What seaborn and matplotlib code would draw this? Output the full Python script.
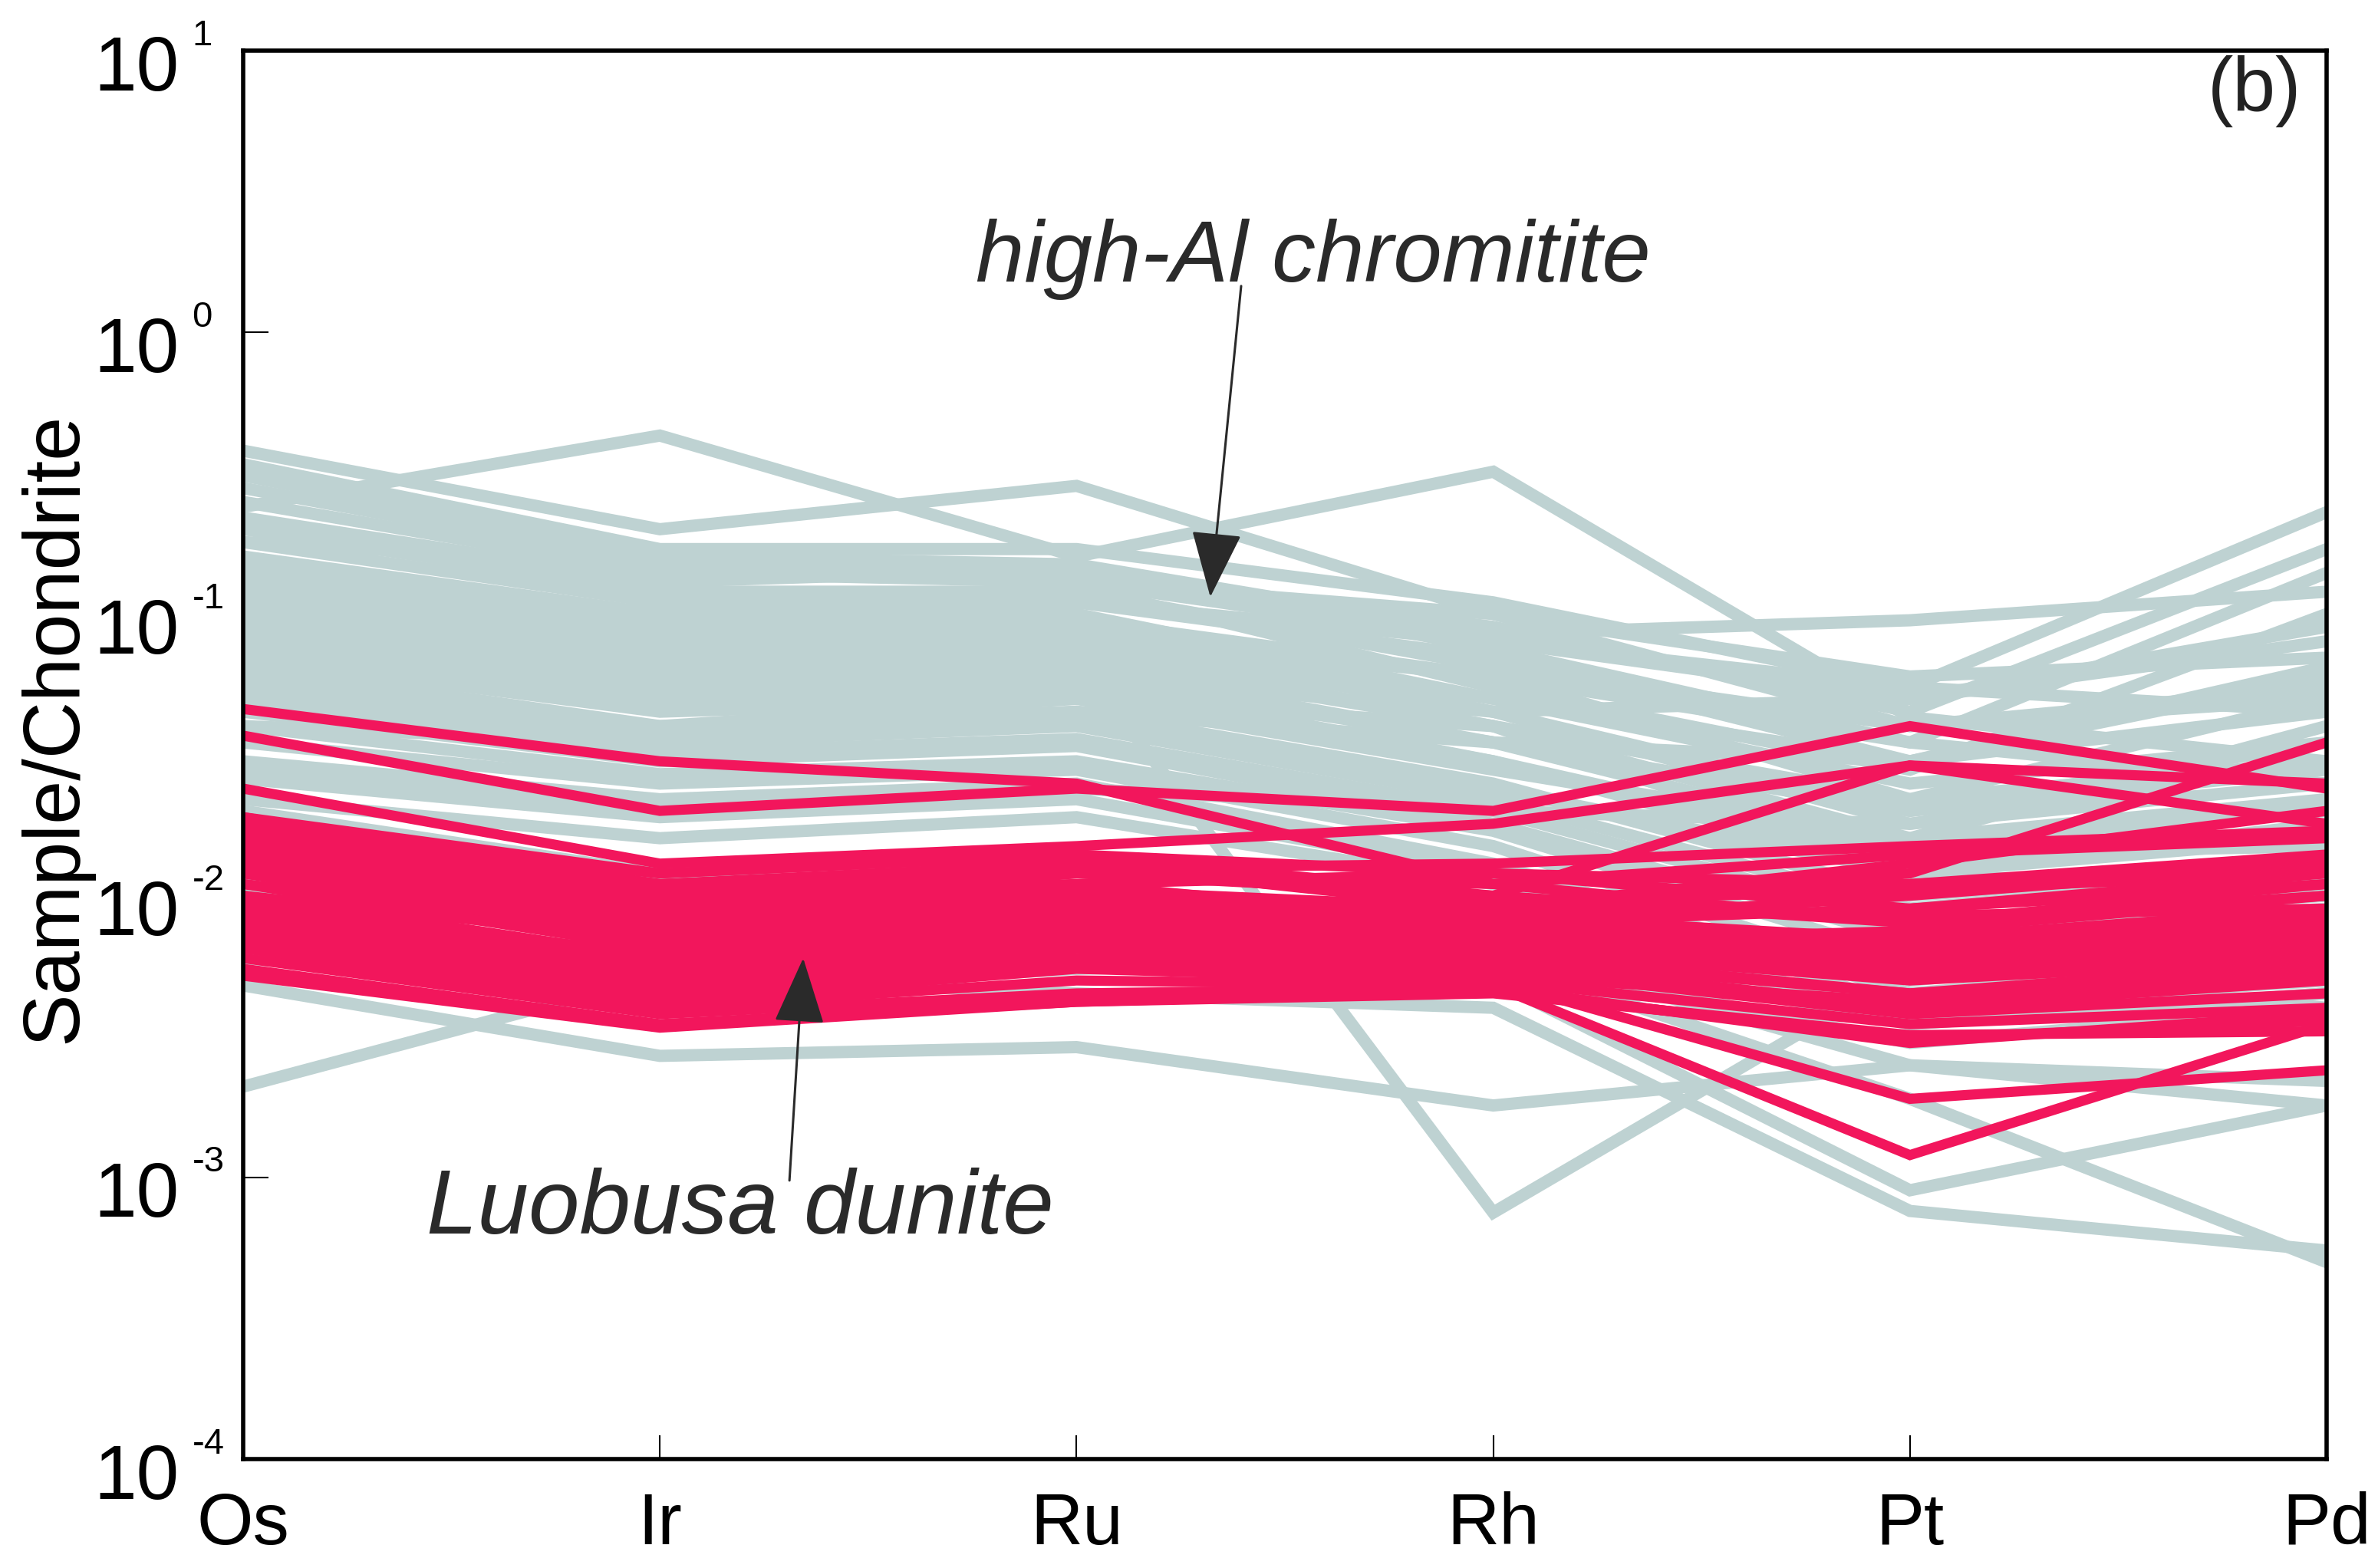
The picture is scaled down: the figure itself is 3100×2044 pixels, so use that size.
import numpy as np
import pandas as pd
import matplotlib
matplotlib.use("Agg")
import matplotlib.pyplot as plt
import matplotlib.transforms as mtransforms
from matplotlib.ticker import NullLocator
import seaborn as sns

# ---------------- data ----------------
elements = ["Os", "Ir", "Ru", "Rh", "Pt", "Pd"]
y_decades = [1e1, 1e0, 1e-1, 1e-2, 1e-3, 1e-4]
y_exponents = ["1", "0", "-1", "-2", "-3", "-4"]

# high-Al chromitite (grey), one value per sample for each element
hal_os = [0.38, 0.24, 0.34, 0.31, 0.28, 0.25, 0.22, 0.20, 0.18, 0.16, 0.15, 0.14, 0.13, 0.12, 0.11, 0.10,
          0.095, 0.09, 0.085, 0.08, 0.075, 0.07, 0.065, 0.06, 0.055, 0.05, 0.045, 0.04, 0.035, 0.03, 0.026,
          0.022, 0.0048, 0.0021, 0.08, 0.012, 0.01, 0.02, 0.006, 0.009, 0.015, 0.18, 0.12, 0.065, 0.04,
          0.028, 0.05, 0.1]
hal_ir = [0.20, 0.43, 0.17, 0.16, 0.15, 0.14, 0.13, 0.12, 0.11, 0.10, 0.095, 0.09, 0.085, 0.08, 0.075, 0.07,
          0.065, 0.06, 0.055, 0.05, 0.048, 0.045, 0.04, 0.038, 0.035, 0.032, 0.03, 0.027, 0.025, 0.022, 0.019,
          0.016, 0.0027, 0.0052, 0.06, 0.009, 0.008, 0.012, 0.0045, 0.006, 0.0085, 0.15, 0.1, 0.05, 0.035,
          0.02, 0.04, 0.065]
hal_ru = [0.285, 0.16, 0.17, 0.15, 0.14, 0.13, 0.145, 0.12, 0.11, 0.125, 0.10, 0.095, 0.09, 0.085, 0.08,
          0.075, 0.07, 0.065, 0.06, 0.058, 0.055, 0.05, 0.045, 0.042, 0.04, 0.036, 0.034, 0.03, 0.028, 0.025,
          0.022, 0.019, 0.0029, 0.0045, 0.07, 0.008, 0.0075, 0.01, 0.0055, 0.0075, 0.009, 0.13, 0.11, 0.06,
          0.045, 0.024, 0.05, 0.085]
hal_rh = [0.10, 0.32, 0.11, 0.085, 0.09, 0.08, 0.075, 0.065, 0.07, 0.055, 0.05, 0.06, 0.045, 0.05, 0.045,
          0.04, 0.04, 0.035, 0.035, 0.03, 0.03, 0.028, 0.025, 0.024, 0.022, 0.02, 0.018, 0.017, 0.015, 0.013,
          0.012, 0.011, 0.0018, 0.004, 0.00075, 0.005, 0.006, 0.0065, 0.006, 0.007, 0.0075, 0.1, 0.08, 0.045,
          0.035, 0.02, 0.04, 0.06]
hal_pt = [0.040, 0.043, 0.055, 0.095, 0.045, 0.05, 0.035, 0.04, 0.03, 0.028, 0.025, 0.022, 0.02, 0.03,
          0.018, 0.016, 0.022, 0.015, 0.02, 0.012, 0.014, 0.016, 0.01, 0.012, 0.009, 0.008, 0.007, 0.006,
          0.005, 0.0045, 0.004, 0.0035, 0.0025, 0.00076, 0.0055, 0.0009, 0.0019, 0.0025, 0.003, 0.0035, 0.004,
          0.06, 0.055, 0.05, 0.03, 0.018, 0.012, 0.035]
hal_pd = [0.055, 0.030, 0.23, 0.12, 0.17, 0.09, 0.14, 0.05, 0.045, 0.10, 0.035, 0.03, 0.028, 0.06, 0.025,
          0.022, 0.05, 0.02, 0.035, 0.018, 0.015, 0.04, 0.013, 0.016, 0.012, 0.01, 0.009, 0.008, 0.007, 0.006,
          0.005, 0.0045, 0.0018, 0.00055, 0.004, 0.0018, 0.0005, 0.0022, 0.004, 0.0045, 0.0055, 0.07, 0.045,
          0.08, 0.065, 0.03, 0.01, 0.025]

# Luobusa dunite (pink)
dun_os = [0.046, 0.037, 0.024, 0.019, 0.018, 0.017, 0.016, 0.015, 0.014, 0.013, 0.012, 0.011, 0.010, 0.0095,
          0.009, 0.0085, 0.008, 0.0075, 0.007, 0.0065, 0.006, 0.0055, 0.0052, 0.017, 0.016, 0.015, 0.014,
          0.013, 0.012, 0.011, 0.010, 0.009, 0.008, 0.0075, 0.007, 0.019, 0.0145, 0.0125]
dun_ir = [0.030, 0.020, 0.013, 0.012, 0.011, 0.010, 0.009, 0.0085, 0.008, 0.0075, 0.007, 0.0065, 0.006,
          0.0058, 0.0055, 0.005, 0.0048, 0.0045, 0.0042, 0.004, 0.0038, 0.0035, 0.0034, 0.012, 0.011, 0.010,
          0.009, 0.0085, 0.008, 0.0075, 0.007, 0.0062, 0.0055, 0.0052, 0.005, 0.0105, 0.0095, 0.007]
dun_ru = [0.025, 0.024, 0.015, 0.014, 0.013, 0.012, 0.011, 0.010, 0.0095, 0.009, 0.0085, 0.008, 0.0075,
          0.007, 0.0068, 0.0065, 0.006, 0.0058, 0.0055, 0.005, 0.0045, 0.0042, 0.0042, 0.014, 0.0125, 0.011,
          0.012, 0.0105, 0.0095, 0.009, 0.0085, 0.0078, 0.0068, 0.006, 0.0058, 0.0125, 0.0105, 0.0088]
dun_rh = [0.011, 0.020, 0.018, 0.010, 0.009, 0.011, 0.008, 0.009, 0.0085, 0.008, 0.0075, 0.007, 0.0068,
          0.0065, 0.006, 0.0058, 0.0055, 0.005, 0.005, 0.0048, 0.0047, 0.0045, 0.0046, 0.012, 0.013, 0.012,
          0.010, 0.009, 0.0095, 0.0085, 0.008, 0.0072, 0.0065, 0.0062, 0.0052, 0.0095, 0.0078, 0.0068]
dun_pt = [0.008, 0.040, 0.029, 0.029, 0.012, 0.014, 0.010, 0.013, 0.007, 0.009, 0.006, 0.0055, 0.0075,
          0.005, 0.0045, 0.004, 0.0038, 0.0035, 0.0019, 0.0012, 0.003, 0.0032, 0.0031, 0.011, 0.015, 0.009,
          0.008, 0.0085, 0.011, 0.0065, 0.0068, 0.006, 0.0052, 0.0045, 0.0042, 0.0105, 0.0062, 0.0058]
dun_pd = [0.011, 0.024, 0.018, 0.025, 0.035, 0.016, 0.013, 0.020, 0.009, 0.012, 0.008, 0.007, 0.010, 0.006,
          0.0055, 0.005, 0.0045, 0.004, 0.0024, 0.0035, 0.0038, 0.0033, 0.0036, 0.014, 0.017, 0.011, 0.010,
          0.009, 0.013, 0.0085, 0.0075, 0.0068, 0.0065, 0.0058, 0.0052, 0.012, 0.0072, 0.0062]

GREY = "#bed2d2"
PINK = "#f2165c"
TEXT_DARK = "#2a2a2a"


def to_long(cols):
    n = len(cols[0])
    assert all(len(c) == n for c in cols)
    rows = []
    for s in range(n):
        for i, c in enumerate(cols):
            rows.append({"sample": s, "pos": i, "element": elements[i], "value": c[s]})
    return pd.DataFrame(rows)


df_hal = to_long([hal_os, hal_ir, hal_ru, hal_rh, hal_pt, hal_pd])
df_dun = to_long([dun_os, dun_ir, dun_ru, dun_rh, dun_pt, dun_pd])

# ---------------- figure ----------------
sns.set_style("white")
plt.rcParams["font.family"] = ["Liberation Sans", "DejaVu Sans"]
plt.rcParams["axes.linewidth"] = 4

fig = plt.figure(figsize=(31, 20.44), dpi=100)
ax = fig.add_axes([0.10226, 0.06947, 0.87613, 0.89824])

sns.lineplot(data=df_hal, x="pos", y="value", units="sample", estimator=None,
             color=GREY, linewidth=11.5, legend=False, ax=ax, solid_joinstyle="miter")
sns.lineplot(data=df_dun, x="pos", y="value", units="sample", estimator=None,
             color=PINK, linewidth=9.5, legend=False, ax=ax, solid_joinstyle="miter")

ax.set_yscale("log")
ax.set_xlim(0, 5)
ax.set_ylim(1e-4, 1e1)

for sp in ax.spines.values():
    sp.set_visible(True)
    sp.set_color("black")
    sp.set_linewidth(4)

ax.set_xticks(range(len(elements)))
ax.set_xticklabels(elements)
ax.set_yticks(y_decades)
ax.set_yticklabels(["10"] * len(y_decades))
ax.yaxis.set_minor_locator(NullLocator())
ax.tick_params(axis="y", direction="in", length=24, width=1.5, pad=60, labelsize=72,
               colors="black", left=True, right=False)
ax.tick_params(axis="x", direction="in", length=22, width=1.5, pad=30, labelsize=68,
               colors="black", bottom=True, top=False)

shift = mtransforms.ScaledTranslation(0, -0.15, fig.dpi_scale_trans)
for lab in ax.get_yticklabels():
    lab.set_transform(lab.get_transform() + shift)

ytrans = ax.get_yaxis_transform()
for val, ex in zip(y_decades, y_exponents):
    ax.annotate(ex, xy=(-0.0245, val), xycoords=ytrans, xytext=(0, 14),
                textcoords="offset points", ha="left", va="center", fontsize=34,
                color="black", annotation_clip=False)

ax.set_xlabel("")
ax.set_ylabel("Sample/Chondrite", fontsize=74, color="black")
ax.yaxis.set_label_coords(-0.0722, 0.519)

# panel label
ax.text(0.9655, 0.971, "(b)", transform=ax.transAxes, ha="center", va="center",
        fontsize=72, color="#222222")

# annotations
ax.text(2.568, 1.51, "high-Al chromitite", ha="center", va="baseline",
        fontsize=82, style="italic", color=TEXT_DARK)
ax.annotate("", xy=(2.321, 0.115), xytext=(2.395, 1.46),
            arrowprops=dict(arrowstyle="-|>,head_length=0.55,head_width=0.21",
                            mutation_scale=100, color=TEXT_DARK, lw=2.2,
                            shrinkA=0, shrinkB=0))
ax.text(1.193, 6.3e-4, "Luobusa dunite", ha="center", va="baseline",
        fontsize=86, style="italic", color=TEXT_DARK)
ax.annotate("", xy=(1.344, 6.0e-3), xytext=(1.311, 9.75e-4),
            arrowprops=dict(arrowstyle="-|>,head_length=0.55,head_width=0.21",
                            mutation_scale=100, color=TEXT_DARK, lw=2.2,
                            shrinkA=0, shrinkB=0))

fig.savefig("out.png", dpi=100, facecolor="white")
